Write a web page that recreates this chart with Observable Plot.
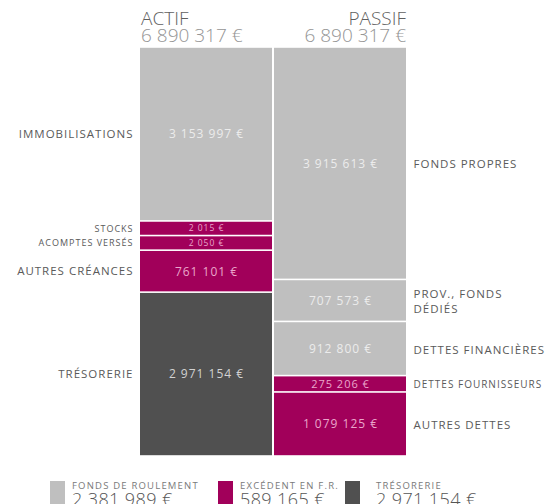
<!DOCTYPE html>
<html>
<head>
<meta charset="utf-8">
<script src="https://cdn.jsdelivr.net/npm/d3@7"></script>
<script src="https://cdn.jsdelivr.net/npm/@observablehq/plot@0.6"></script>
<style>
  html, body { margin: 0; padding: 0; background: #fff; }
  body { width: 552px; height: 504px; overflow: hidden; font-family: "Open Sans", sans-serif; position: relative; }
  #head { position: relative; height: 47px; }
  .hd { position: absolute; top: 10px; font-size: 19px; line-height: 17px; font-weight: 300; }
  .hd .t { color: #5f5f5f; }
  .hd .v { color: #959595; }
  #chart svg { display: block; }
  #legend { position: relative; height: 48px; margin-top: 25px; }
  .li { position: absolute; top: 0; }
  .sw { position: absolute; left: 0; top: 0; width: 15px; height: 26px; }
  .lt { position: absolute; top: 0; white-space: nowrap; }
  .ll { font-size: 9.5px; line-height: 10px; letter-spacing: 1.2px; color: #7a7a7a; }
  .lv { font-size: 18px; line-height: 16px; color: #555; letter-spacing: 0.4px; font-weight: 300; }
</style>
</head>
<body>
<div id="head"></div>
<div id="chart"></div>
<div id="legend"></div>
<script>
// ---- data ----
const sides = ["ACTIF", "PASSIF"];
const actifLabels = ["IMMOBILISATIONS", "STOCKS", "ACOMPTES VERSÉS", "AUTRES CRÉANCES", "TRÉSORERIE"];
const actifValues = [3153997, 2015, 2050, 761101, 2971154];
const actifGroups = ["fr", "bfr", "bfr", "bfr", "treso"];
const passifLabels = ["FONDS PROPRES", "PROV., FONDS\nDÉDIÉS", "DETTES FINANCIÈRES", "DETTES FOURNISSEURS", "AUTRES DETTES"];
const passifValues = [3915613, 707573, 912800, 275206, 1079125];
const passifGroups = ["fr", "fr", "fr", "bfr", "bfr"];
const legendKeys = ["fr", "bfr", "treso"];
const legendLabels = ["FONDS DE ROULEMENT", "EXCÉDENT EN F.R.", "TRÉSORERIE"];
const legendValues = [2381989, 589165, 2971154];

// ---- styles ----
const fillColor = {fr: "#bfbfbf", bfr: "#a1005a", treso: "#505050"};
const textColor = {fr: "#ececec", bfr: "#eaa6cb", treso: "#d2d2d2"};
const MIN_DISPLAY = 265000; // minimum drawn share so tiny items stay readable

const loc = d3.formatLocale({decimal: ",", thousands: "\u00a0", grouping: [3], currency: ["", "\u00a0€"]});
const fmt = loc.format("$,.0f");

const build = (side, labels, values, groups) => labels.map((label, i) => ({
  side, label, value: values[i], group: groups[i], display: Math.max(values[i], MIN_DISPLAY)
}));
const actif = build("ACTIF", actifLabels, actifValues, actifGroups);
const passif = build("PASSIF", passifLabels, passifValues, passifGroups);
const rows = actif.concat(passif);

// header
const totals = [d3.sum(actifValues), d3.sum(passifValues)];
const head = document.getElementById("head");
sides.forEach((s, i) => {
  const d = document.createElement("div");
  d.className = "hd";
  if (i === 0) { d.style.left = "141px"; d.style.textAlign = "left"; }
  else { d.style.right = "146px"; d.style.textAlign = "right"; }
  d.innerHTML = `<div class="t">${s}</div><div class="v">${fmt(totals[i])}</div>`;
  head.appendChild(d);
});

const valSize = d => d.value < 100000 ? 8.5 : d.value < 500000 ? 11 : 12;
const labSize = d => d.value < 100000 ? 9 : d.value < 500000 ? 10 : 11.5;

const st = (extra) => Plot.stackY({x: "side", y: "display", offset: "normalize", ...extra});

const chart = Plot.plot({
  width: 552,
  height: 409,
  marginLeft: 139,
  marginRight: 145,
  marginTop: 0,
  marginBottom: 0,
  x: {domain: sides, padding: 0, axis: null},
  y: {domain: [0, 1], reverse: true, axis: null},
  color: {type: "identity"},
  style: {fontFamily: "Open Sans, sans-serif"},
  marks: [
    Plot.barY(rows, st({fill: d => fillColor[d.group], insetLeft: 1, insetRight: 1, insetTop: 0.8, insetBottom: 0.8})),
    Plot.text(rows, st({text: d => fmt(d.value), fill: d => textColor[d.group], fontSize: valSize, className: "val"})),
    Plot.text(actif, st({text: "label", textAnchor: "end", dx: -73, fill: "#5a5a5a", fontSize: labSize, className: "lab"})),
    Plot.text(passif, st({text: "label", textAnchor: "start", dx: 73, fill: "#5a5a5a", fontSize: labSize, lineHeight: 1.25, className: "lab"}))
  ]
});
chart.querySelectorAll("text").forEach(t => t.setAttribute("letter-spacing", "1"));
document.getElementById("chart").appendChild(chart);

// legend
const legendX = [50, 218, 345];
const lg = document.getElementById("legend");
legendKeys.forEach((k, i) => {
  const it = document.createElement("div");
  it.className = "li";
  it.style.left = legendX[i] + "px";
  it.innerHTML = `<div class="sw" style="background:${fillColor[k]}"></div>
    <div class="lt" style="left:${i === 2 ? 31 : 22}px"><div class="ll">${legendLabels[i]}</div><div class="lv">${fmt(legendValues[i])}</div></div>`;
  lg.appendChild(it);
});
</script>
</body>
</html>
